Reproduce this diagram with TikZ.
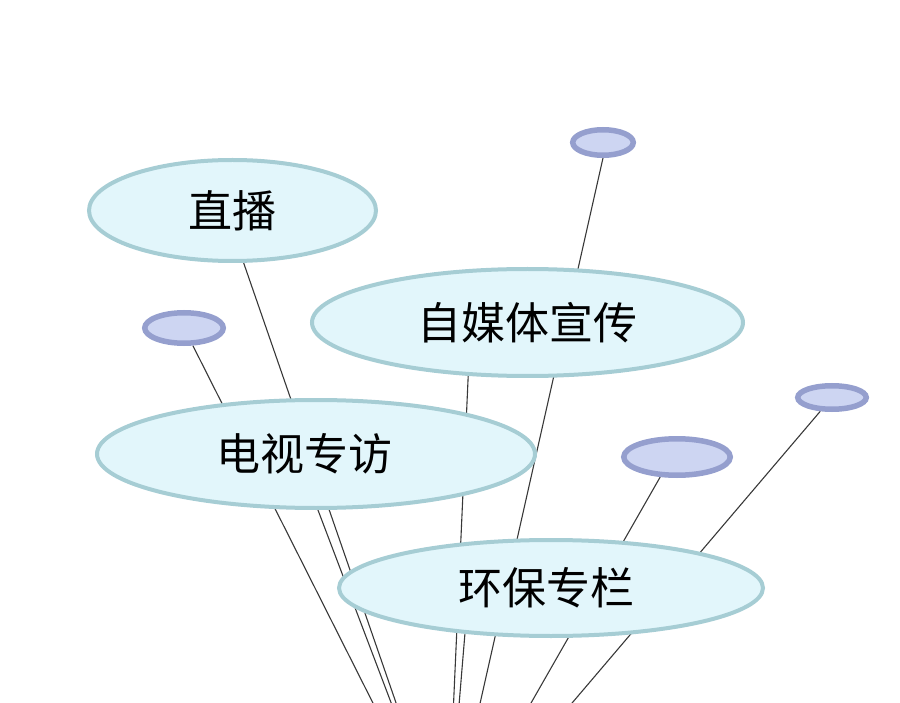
\documentclass[tikz,border=0pt]{standalone}
\usepackage{fontspec}
\setmainfont{Noto Sans CJK SC}
\usetikzlibrary{shapes.geometric,backgrounds}

\definecolor{skyfill}{HTML}{E2F6FB}
\definecolor{skyline}{HTML}{A6CDD4}
\definecolor{lavfill}{HTML}{CDD5F2}
\definecolor{lavline}{HTML}{959FCE}

\begin{document}
\begin{tikzpicture}[x=1pt,y=-1pt,
  big/.style={ellipse, draw=skyline, fill=skyfill, line width=4pt, inner sep=0pt, font=\fontsize{44}{52}\selectfont},
  small/.style={ellipse, draw=lavline, fill=lavfill, line width=5.5pt, inner sep=0pt},
  string/.style={draw=black!78, line width=1.1pt}]
\useasboundingbox (0,0) rectangle (900,703);
\clip (0,0) rectangle (900,703);
\node[big, minimum width=287pt, minimum height=101pt] (zb) at (232.5,210.5){直播};
\node[big, minimum width=431pt, minimum height=107pt] (zmt) at (527.5,322.5){自媒体宣传};
\node[big, minimum width=438pt, minimum height=108pt] (dsz) at (316,454){\makebox[0pt]{\kern-24pt 电视专访}};
\node[big, minimum width=424pt, minimum height=96pt] (hbz) at (551,588){\makebox[0pt]{\kern-10pt 环保专栏}};
\node[small, minimum width=60.5pt, minimum height=25.5pt] (s1) at (603,142.5){};
\node[small, minimum width=78.5pt, minimum height=30.5pt] (s2) at (184,328){};
\node[small, minimum width=106.5pt, minimum height=36.5pt] (s3) at (677,457){};
\node[small, minimum width=68.5pt, minimum height=23.5pt] (s4) at (832,397.5){};
% all strings meet below the picture
\coordinate (k) at (447,850);
\begin{scope}[on background layer]
\draw[string] (zb.282) -- (k);
\draw[string] (zmt.222) -- (k);
\draw[string] (dsz.272) -- (k);
\draw[string] (hbz.208) -- (k);
\draw[string] (s1.270) -- (k);
\draw[string] (s2) -- (k);
\draw[string] (s3.230) -- (k);
\draw[string] (s4) -- (k);
\end{scope}
\end{tikzpicture}
\end{document}
